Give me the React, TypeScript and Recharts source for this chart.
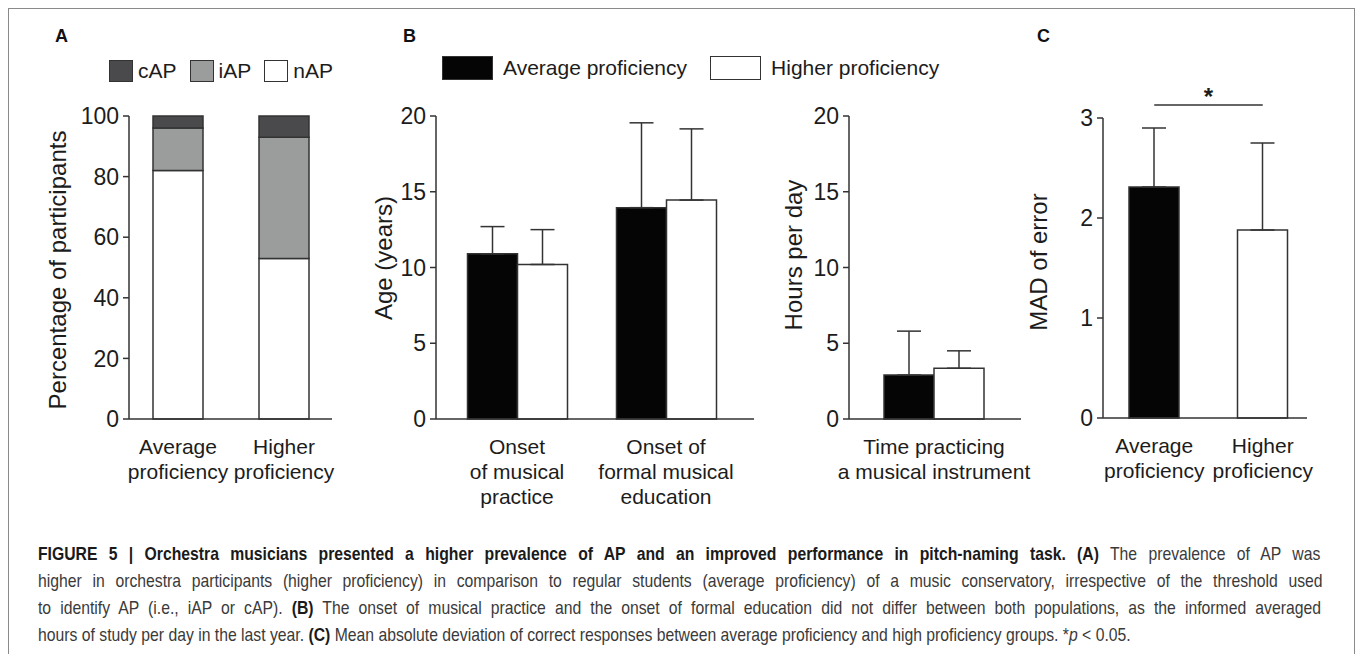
import React from 'react';
import { BarChart, Bar, XAxis, YAxis, ErrorBar, Legend, ReferenceLine, Cell } from 'recharts';

const FONT = '"Liberation Sans", Arial, Helvetica, sans-serif';
const INK = '#1c1c1c';
const AXIS = '#333333';
const BLACK = '#050505';

// panel A: prevalence of AP (% of participants)
const groupsA = ['Average\nproficiency', 'Higher\nproficiency'];
const nAP = [82, 53];
const iAP = [14, 40];
const cAP = [4, 7];
const ticksA = [0, 20, 40, 60, 80, 100];

// panel B: onset ages (years)
const onsetCats = ['Onset\nof musical\npractice', 'Onset of\nformal musical\neducation'];
const onsetAvg = [10.9, 13.95];
const onsetAvgErr = [1.8, 5.6];
const onsetHigh = [10.2, 14.45];
const onsetHighErr = [2.3, 4.7];
const ticksB = [0, 5, 10, 15, 20];

// panel B: hours per day
const hoursCats = ['Time practicing\na musical instrument'];
const hoursAvg = [2.9];
const hoursAvgErr = [2.9];
const hoursHigh = [3.35];
const hoursHighErr = [1.15];

// panel C: MAD of error
const madCats = ['Average\nproficiency', 'Higher\nproficiency'];
const madVals = [2.31, 1.88];
const madErr = [0.59, 0.87];
const ticksC = [0, 1, 2, 3];
const sigLevel = 3.13;

const seriesA = [
  { key: 'cAP', name: 'cAP', fill: '#4a4a4c' },
  { key: 'iAP', name: 'iAP', fill: '#9b9d9d' },
  { key: 'nAP', name: 'nAP', fill: '#ffffff' },
];
const seriesB = [
  { key: 'avg', name: 'Average proficiency', fill: BLACK },
  { key: 'high', name: 'Higher proficiency', fill: '#ffffff' },
];

const dataA = groupsA.map((g, i) => ({ group: g, nAP: nAP[i], iAP: iAP[i], cAP: cAP[i] }));
const dataOnset = onsetCats.map((g, i) => ({
  group: g, avg: onsetAvg[i], high: onsetHigh[i], avgErr: [0, onsetAvgErr[i]], highErr: [0, onsetHighErr[i]],
}));
const dataHours = hoursCats.map((g, i) => ({
  group: g, avg: hoursAvg[i], high: hoursHigh[i], avgErr: [0, hoursAvgErr[i]], highErr: [0, hoursHighErr[i]],
}));
const dataMad = madCats.map((g, i) => ({ group: g, mad: madVals[i], madErr: [0, madErr[i]] }));

function MultiTick({ x, y, payload }: any) {
  const lines = String(payload.value).split('\n');
  return (
    <text x={x} y={y} textAnchor="middle" fontSize={21} fill={INK} fontFamily={FONT}>
      {lines.map((l, i) => (
        <tspan key={i} x={x} dy={i === 0 ? 35 : 25}>{l}</tspan>
      ))}
    </text>
  );
}

const yLabel = (text: string, cx: number, cy: number) => ({
  content: () => (
    <text x={cx} y={cy} transform={`rotate(-90 ${cx} ${cy})`} textAnchor="middle" dominantBaseline="central"
      fontSize={24} fill={INK} fontFamily={FONT}>{text}</text>
  ),
});

const tickStyle = { fontSize: 23, fill: INK, fontFamily: FONT };

const legendBox = (series: typeof seriesA, w: number, h: number, textGap: number, itemGap: number) => () => (
  <div style={{ display: 'flex', alignItems: 'center', fontFamily: FONT, fontSize: 21, color: INK, whiteSpace: 'nowrap' }}>
    {series.map((s) => (
      <div key={s.key} style={{ display: 'flex', alignItems: 'center', marginRight: itemGap }}>
        <span style={{ display: 'inline-block', width: w, height: h, background: s.fill, border: `1.5px solid ${AXIS}`, boxSizing: 'border-box', marginRight: textGap }} />
        <span>{s.name}</span>
      </div>
    ))}
  </div>
);

type Part = { t: string; b?: boolean; i?: boolean };
const captionLines: { width: number; justify: boolean; parts: Part[] }[] = [
  { width: 1285, justify: true, parts: [
    { t: 'FIGURE 5 | Orchestra musicians presented a higher prevalence of AP and an improved performance in pitch-naming task. (A)', b: true },
    { t: ' The prevalence of AP was' },
  ] },
  { width: 1285, justify: true, parts: [
    { t: 'higher in orchestra participants (higher proficiency) in comparison to regular students (average proficiency) of a music conservatory, irrespective of the threshold used' },
  ] },
  { width: 1285, justify: true, parts: [
    { t: 'to identify AP (i.e., iAP or cAP). ' },
    { t: '(B)', b: true },
    { t: ' The onset of musical practice and the onset of formal education did not differ between both populations, as the informed averaged' },
  ] },
  { width: 1093, justify: false, parts: [
    { t: 'hours of study per day in the last year. ' },
    { t: '(C)', b: true },
    { t: ' Mean absolute deviation of correct responses between average proficiency and high proficiency groups. *' },
    { t: 'p', i: true },
    { t: ' < 0.05.' },
  ] },
];
const CAP_SIZE = 18;

function measure(parts: Part[]) {
  const ctx = document.createElement('canvas').getContext('2d');
  if (!ctx) return parts.reduce((s, p) => s + p.t.length * CAP_SIZE * 0.5, 0);
  let w = 0;
  for (const p of parts) {
    ctx.font = `${p.i ? 'italic ' : ''}${p.b ? 'bold ' : ''}${CAP_SIZE}px "Liberation Sans"`;
    w += ctx.measureText(p.t).width;
  }
  return w;
}

function Caption() {
  const widths = captionLines.map((l) => measure(l.parts));
  const last = captionLines.length - 1;
  const sx = captionLines[last].width / widths[last];
  return (
    <>
      {captionLines.map((line, li) => {
        const spaces = line.parts.reduce((s, p) => s + (p.t.match(/ /g) || []).length, 0);
        const ws = line.justify ? (line.width / sx - widths[li]) / spaces : 0;
        return (
          <text key={li} transform={`translate(38 ${560 + li * 27}) scale(${sx} 1)`} x={0} y={0}
            fontFamily={FONT} fontSize={CAP_SIZE} fill="#3a3a3a" style={{ wordSpacing: `${ws}px` }}>
            {line.parts.map((p, pi) => (
              <tspan key={pi} fontWeight={p.b ? 'bold' : 'normal'} fontStyle={p.i ? 'italic' : 'normal'} fill={p.b ? '#1a1a1a' : '#3a3a3a'}>{p.t}</tspan>
            ))}
          </text>
        );
      })}
    </>
  );
}

export default function App() {
  return (
    <div style={{ position: 'absolute', left: 0, top: 0, width: 1357, height: 654, background: '#fff', overflow: 'hidden', fontFamily: FONT }}>
      <style>{'svg.recharts-surface{overflow:visible}'}</style>
      <div style={{ position: 'absolute', left: 8, top: 8, width: 1347, height: 700, border: '1px solid #8a8a8a', borderBottom: 'none', boxSizing: 'border-box' }} />

      {/* A */}
      <div style={{ position: 'absolute', left: 0, top: 0 }}>
        <BarChart width={332} height={520} data={dataA} margin={{ top: 116, right: 0, left: 0, bottom: 11 }} barSize={50}>
          <XAxis dataKey="group" tick={<MultiTick />} tickLine={false} tickSize={0} tickMargin={0} interval={0}
            height={90} axisLine={{ stroke: AXIS, strokeWidth: 1.5 }} padding={{ left: -4, right: -5 }} />
          <YAxis width={129} domain={[0, 100]} ticks={ticksA} interval={0} tick={tickStyle} tickSize={6} tickMargin={4}
            axisLine={{ stroke: AXIS, strokeWidth: 1.5 }} tickLine={{ stroke: AXIS, strokeWidth: 1.5 }}
            label={yLabel('Percentage of participants', 57, 270)} />
          <Legend verticalAlign="middle" align="center" content={legendBox(seriesA, 24, 22, 5, 13)}
            wrapperStyle={{ left: 109, top: 59, width: 300 }} />
          <Bar dataKey="nAP" name="nAP" stackId="a" fill="#ffffff" stroke={AXIS} strokeWidth={1.5} isAnimationActive={false} />
          <Bar dataKey="iAP" name="iAP" stackId="a" fill="#9b9d9d" stroke={AXIS} strokeWidth={1.5} isAnimationActive={false} />
          <Bar dataKey="cAP" name="cAP" stackId="a" fill="#4a4a4c" stroke={AXIS} strokeWidth={1.5} isAnimationActive={false} />
        </BarChart>
      </div>

      {/* B left */}
      <div style={{ position: 'absolute', left: 340, top: 0 }}>
        <BarChart width={414} height={530} data={dataOnset} margin={{ top: 116, right: 0, left: 0, bottom: 11 }} barSize={50} barGap={0}>
          <XAxis dataKey="group" tick={<MultiTick />} tickLine={false} tickSize={0} tickMargin={0} interval={0}
            height={100} axisLine={{ stroke: AXIS, strokeWidth: 1.5 }} padding={{ left: 6.5, right: 13.5 }} />
          <YAxis width={96} domain={[0, 20]} ticks={ticksB} interval={0} tick={tickStyle} tickSize={6} tickMargin={4}
            axisLine={{ stroke: AXIS, strokeWidth: 1.5 }} tickLine={{ stroke: AXIS, strokeWidth: 1.5 }}
            label={yLabel('Age (years)', 43, 258)} />
          <Legend verticalAlign="middle" align="center" content={legendBox(seriesB, 51, 24, 10, 23)}
            wrapperStyle={{ left: 102, top: 56, width: 560 }} />
          <Bar dataKey="avg" name="Average proficiency" fill={BLACK} stroke={AXIS} strokeWidth={1.5} isAnimationActive={false}>
            <ErrorBar dataKey="avgErr" direction="y" width={12} stroke={AXIS} strokeWidth={1.5} isAnimationActive={false} />
          </Bar>
          <Bar dataKey="high" name="Higher proficiency" fill="#ffffff" stroke={AXIS} strokeWidth={1.5} isAnimationActive={false}>
            <ErrorBar dataKey="highErr" direction="y" width={12} stroke={AXIS} strokeWidth={1.5} isAnimationActive={false} />
          </Bar>
        </BarChart>
      </div>

      {/* B right */}
      <div style={{ position: 'absolute', left: 760, top: 0 }}>
        <BarChart width={261} height={520} data={dataHours} margin={{ top: 116, right: 0, left: 0, bottom: 11 }} barSize={50} barGap={0}>
          <XAxis dataKey="group" tick={<MultiTick />} tickLine={false} tickSize={0} tickMargin={0} interval={0}
            height={90} axisLine={{ stroke: AXIS, strokeWidth: 1.5 }} padding={{ left: 0, right: 2 }} />
          <YAxis width={89} domain={[0, 20]} ticks={ticksB} interval={0} tick={tickStyle} tickSize={6} tickMargin={4}
            axisLine={{ stroke: AXIS, strokeWidth: 1.5 }} tickLine={{ stroke: AXIS, strokeWidth: 1.5 }}
            label={yLabel('Hours per day', 33, 255)} />
          <Bar dataKey="avg" name="Average proficiency" fill={BLACK} stroke={AXIS} strokeWidth={1.5} isAnimationActive={false}>
            <ErrorBar dataKey="avgErr" direction="y" width={12} stroke={AXIS} strokeWidth={1.5} isAnimationActive={false} />
          </Bar>
          <Bar dataKey="high" name="Higher proficiency" fill="#ffffff" stroke={AXIS} strokeWidth={1.5} isAnimationActive={false}>
            <ErrorBar dataKey="highErr" direction="y" width={12} stroke={AXIS} strokeWidth={1.5} isAnimationActive={false} />
          </Bar>
        </BarChart>
      </div>

      {/* C */}
      <div style={{ position: 'absolute', left: 1025, top: 0 }}>
        <BarChart width={282} height={520} data={dataMad} margin={{ top: 118, right: 0, left: 0, bottom: 12 }} barSize={50}>
          <XAxis dataKey="group" tick={<MultiTick />} tickLine={false} tickSize={0} tickMargin={0} interval={0}
            height={90} axisLine={{ stroke: AXIS, strokeWidth: 1.5 }} padding={{ left: -3, right: -10 }} />
          <YAxis width={78} domain={[0, 3]} ticks={ticksC} interval={0} tick={tickStyle} tickSize={6} tickMargin={4}
            axisLine={{ stroke: AXIS, strokeWidth: 1.5 }} tickLine={{ stroke: AXIS, strokeWidth: 1.5 }}
            label={yLabel('MAD of error', 13, 262)} />
          <Bar dataKey="mad" stroke={AXIS} strokeWidth={1.5} isAnimationActive={false}>
            {dataMad.map((d, i) => <Cell key={d.group} fill={i === 0 ? BLACK : '#ffffff'} />)}
            <ErrorBar dataKey="madErr" direction="y" width={12} stroke={AXIS} strokeWidth={1.5} isAnimationActive={false} />
          </Bar>
          <ReferenceLine ifOverflow="visible" stroke={AXIS} strokeWidth={1.5}
            segment={[{ x: madCats[0], y: sigLevel }, { x: madCats[1], y: sigLevel }]}
            label={{ value: '*', position: 'top', offset: 0, fontSize: 24, fontWeight: 'bold', fill: INK, fontFamily: FONT }} />
        </BarChart>
      </div>

      {/* panel letters and caption */}
      <svg width={1357} height={654} style={{ position: 'absolute', left: 0, top: 0, pointerEvents: 'none' }}>
        <g fontFamily={FONT} fontWeight="bold" fontSize={18} fill="#111">
          <text x={55} y={42}>A</text>
          <text x={403} y={42}>B</text>
          <text x={1037} y={42}>C</text>
        </g>
        <Caption />
      </svg>
    </div>
  );
}
